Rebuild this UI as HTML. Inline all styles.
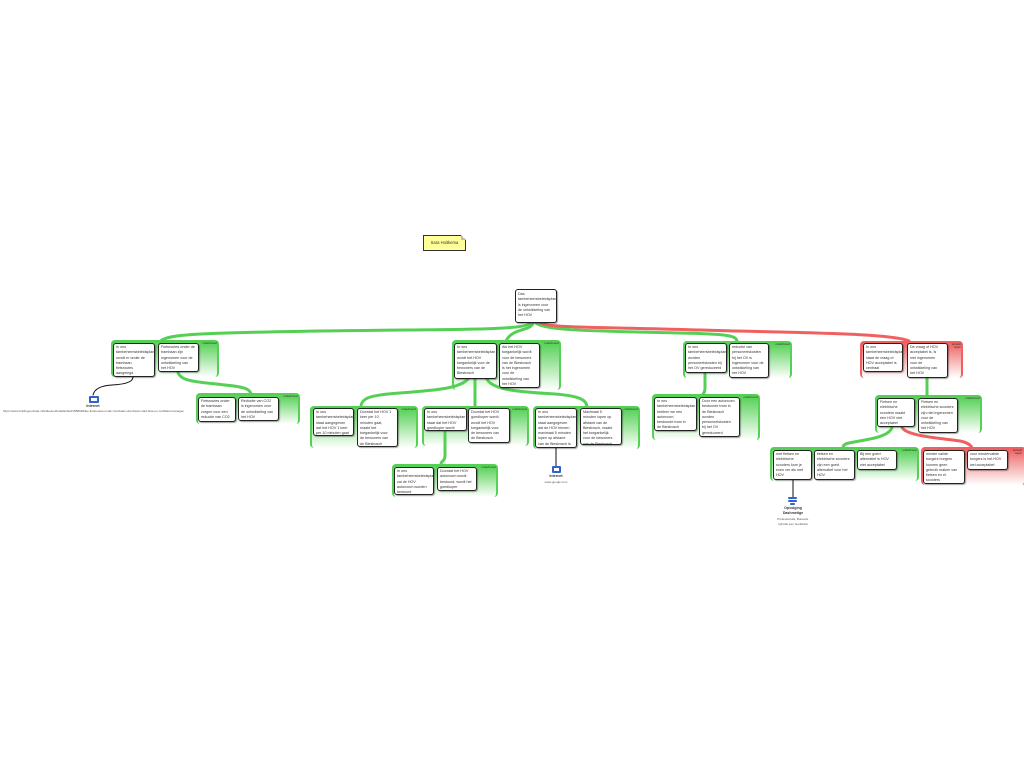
<!DOCTYPE html>
<html><head><meta charset="utf-8">
<style>
html,body{margin:0;padding:0;background:#fff;}
#c{position:relative;width:1024px;height:768px;overflow:hidden;background:#fff;font-family:"Liberation Sans",sans-serif;}
.g{position:absolute;box-sizing:border-box;border-radius:4px;z-index:0;}
.gg{background:linear-gradient(to bottom,#55d055 0%,#8fe08f 35%,#ffffff 100%);border-left:2px solid #55d055;border-right:2px solid #55d055;border-top:2px solid #55d055;}
.gr{background:linear-gradient(to bottom,#f06060 0%,#f49a9a 35%,#ffffff 100%);border-left:2px solid #f06060;border-right:2px solid #f06060;border-top:2px solid #f06060;}
.b{position:absolute;box-sizing:border-box;background:#fff;border:1.3px solid #222;border-radius:3px;box-shadow:1px 1px 1px rgba(0,0,0,.35);font-size:3.7px;line-height:5.3px;color:#333;padding:1px 2px;white-space:nowrap;overflow:hidden;z-index:2;}
.l{position:absolute;font-size:2.8px;line-height:3.2px;color:#333;z-index:2;text-align:right;}
svg{position:absolute;left:0;top:0;z-index:1;}
.ic{position:absolute;background:#2f62d0;border-radius:1px;z-index:2;}
.t{position:absolute;z-index:2;text-align:center;color:#333;white-space:nowrap;}
</style></head><body><div id="c">

<!-- yellow note -->
<div style="position:absolute;left:423px;top:235px;width:43px;height:16px;box-sizing:border-box;background:#ffff99;border:1px solid #333;font-size:4.2px;line-height:14px;text-align:center;color:#333;clip-path:polygon(0 0,38px 0,43px 5px,43px 16px,0 16px);">Sara Hoitkema</div>
<div style="position:absolute;left:461px;top:235px;width:5px;height:5px;background:linear-gradient(225deg,transparent 50%,#bbb 50%);"></div>

<!-- groups -->
<div class="g gg" style="left:111px;top:340px;width:108px;height:37px;"></div>
<div class="g gg" style="left:196px;top:393px;width:104px;height:31px;"></div>
<div class="g gg" style="left:452px;top:340px;width:109px;height:50px;"></div>
<div class="g gg" style="left:310px;top:406px;width:108px;height:42px;"></div>
<div class="g gg" style="left:422px;top:406px;width:107px;height:40px;"></div>
<div class="g gg" style="left:392px;top:464px;width:106px;height:33px;"></div>
<div class="g gg" style="left:533px;top:406px;width:107px;height:43px;"></div>
<div class="g gg" style="left:683px;top:341px;width:109px;height:37px;"></div>
<div class="g gg" style="left:652px;top:394px;width:108px;height:46px;"></div>
<div class="g gr" style="left:860px;top:341px;width:103px;height:37px;"></div>
<div class="g gg" style="left:875px;top:395px;width:107px;height:38px;"></div>
<div class="g gg" style="left:770px;top:447px;width:149px;height:34px;"></div>
<div class="g gr" style="left:921px;top:447px;width:105px;height:38px;"></div>

<!-- group labels -->
<div class="l" style="left:197px;top:342px;width:20px;">onderbouwt</div>
<div class="l" style="left:278px;top:395px;width:20px;">onderbouwt</div>
<div class="l" style="left:539px;top:342px;width:20px;">onderbouwt</div>
<div class="l" style="left:396px;top:408px;width:20px;">onderbouwt</div>
<div class="l" style="left:507px;top:408px;width:20px;">onderbouwt</div>
<div class="l" style="left:476px;top:466px;width:20px;">onderbouwt</div>
<div class="l" style="left:618px;top:408px;width:20px;">onderbouwt</div>
<div class="l" style="left:770px;top:343px;width:20px;">onderbouwt</div>
<div class="l" style="left:738px;top:396px;width:20px;">onderbouwt</div>
<div class="l" style="left:946px;top:343px;width:15px;">spreekt<br>tegen</div>
<div class="l" style="left:960px;top:397px;width:20px;">onderbouwt</div>
<div class="l" style="left:897px;top:449px;width:20px;">onderbouwt</div>
<div class="l" style="left:1008px;top:449px;width:14px;">spreekt<br>tegen</div>

<!-- connectors -->
<svg width="1024" height="768" viewBox="0 0 1024 768">
<g fill="none" stroke-linecap="round">
<path d="M530 323 C526 331 440 329 320 331 C200 333 164 334 160 342" stroke="#55d055" stroke-width="3"/>
<path d="M533 323 C531 331 512 328 506 341" stroke="#55d055" stroke-width="3"/>
<path d="M536 323 C545 331 600 331 680 333 C730 334 736 336 737 341" stroke="#55d055" stroke-width="3"/>
<path d="M541 323 C550 328 600 327 700 330 C800 333 890 333 909 341" stroke="#f06060" stroke-width="3"/>
<path d="M178 372 C180 382 200 382 225 385 C245 387 250 389 251 394" stroke="#55d055" stroke-width="3"/>
<path d="M468 379 C460 388 440 390 400 393 C370 395 362 398 361 406" stroke="#55d055" stroke-width="3"/>
<path d="M475 379 L475 406" stroke="#55d055" stroke-width="3"/>
<path d="M487 379 C492 390 520 392 555 394 C580 396 586 400 587 406" stroke="#55d055" stroke-width="3"/>
<path d="M445 431 L445 456 C445 461 441 461 441 464" stroke="#55d055" stroke-width="3"/>
<path d="M705 373 L705 388 C705 391 704 393 703 394" stroke="#55d055" stroke-width="3"/>
<path d="M927 378 L927 395" stroke="#55d055" stroke-width="3"/>
<path d="M892 427 C890 438 862 440 849 443 Q843 444 843 448" stroke="#55d055" stroke-width="3"/>
<path d="M902 427 C905 436 940 438 960 441 Q970 443 972 448" stroke="#f06060" stroke-width="3"/>
<path d="M133 377 Q133 384 112 385 Q95 386 93 395" stroke="#111" stroke-width="1"/>
<path d="M556 448 L556 466" stroke="#111" stroke-width="1"/>
<path d="M793 480 L793 497" stroke="#111" stroke-width="1"/>
</g>
</svg>

<!-- root -->
<div class="b" style="left:515px;top:289px;width:42px;height:34px;padding-top:2px;">Das<br>tarnbeheersbeleidsplan<br>is ingenomen voor<br>de ontwikkeling van<br>het HOV</div>

<!-- group 1 -->
<div class="b" style="left:113px;top:343px;width:42px;height:34px;">In ons<br>tarnbeheersbeleidsplan<br>wordt er onder de<br>trambaan<br>fietsroutes<br>aangelegd.</div>
<div class="b" style="left:158px;top:343px;width:41px;height:29px;">Fietsroutes onder de<br>trambaan zijn<br>ingenomen voor de<br>ontwikkeling van<br>het HOV</div>
<div class="b" style="left:198px;top:397px;width:38px;height:25px;">Fietsroutes onder<br>de trambaan<br>zorgen voor een<br>reductie van CO2</div>
<div class="b" style="left:238px;top:397px;width:41px;height:24px;">Reductie van CO2<br>is ingenomen voor<br>de ontwikkeling van<br>het HOV</div>

<!-- group 2 -->
<div class="b" style="left:454px;top:343px;width:43px;height:36px;">In ons<br>tarnbeheersbeleidsplan<br>wordt het HOV<br>toegankelijk voor de<br>bewoners van de<br>Biesbosch</div>
<div class="b" style="left:499px;top:343px;width:41px;height:45px;">Als het HOV<br>toegankelijk wordt<br>voor de bewoners<br>van de Biesbosch<br>is het ingenomen<br>voor de<br>ontwikkeling van<br>het HOV</div>

<div class="b" style="left:313px;top:408px;width:41px;height:28px;">In ons<br>tarnbeheersbeleidsplan<br>staat aangegeven<br>dat het HOV 1 keer<br>per 10 minuten gaat</div>
<div class="b" style="left:357px;top:408px;width:41px;height:39px;">Doordat het HOV 1<br>keer per 10<br>minuten gaat,<br>maakt het<br>toegankelijk voor<br>de bewoners van<br>de Biesbosch</div>

<div class="b" style="left:424px;top:408px;width:43px;height:23px;">In ons<br>tarnbeheersbeleidsplan<br>staat dat het HOV<br>goedkoper wordt</div>
<div class="b" style="left:468px;top:408px;width:42px;height:35px;">Doordat het HOV<br>goedkoper wordt,<br>wordt het HOV<br>toegankelijk voor<br>de bewoners van<br>de Biesbosch</div>

<div class="b" style="left:394px;top:467px;width:40px;height:28px;">In ons<br>tarnbeheersbeleidsplan<br>zal de HOV<br>autonoom worden<br>bestuurd</div>
<div class="b" style="left:437px;top:467px;width:40px;height:24px;">Doordat het HOV<br>autonoom wordt<br>bestuurd, wordt het<br>goedkoper</div>

<div class="b" style="left:535px;top:408px;width:42px;height:40px;">In ons<br>tarnbeheersbeleidsplan<br>staat aangegeven<br>dat de HOV binnen<br>maximaal 5 minuten<br>lopen op afstand<br>van de Biesbosch is</div>
<div class="b" style="left:580px;top:408px;width:42px;height:37px;">Maximaal 5<br>minuten lopen op<br>afstand van de<br>Biesbosch, maakt<br>het toegankelijk<br>voor de bewoners<br>van de Biesbosch</div>

<!-- group 3 -->
<div class="b" style="left:685px;top:343px;width:42px;height:30px;">In ons<br>tarnbeheersbeleidsplan<br>worden<br>personeelskosten bij<br>het OV gereduceerd</div>
<div class="b" style="left:729px;top:343px;width:40px;height:35px;">reductie van<br>personeelskosten<br>bij het OV is<br>ingenomen voor de<br>ontwikkeling van<br>het HOV</div>
<div class="b" style="left:654px;top:397px;width:43px;height:34px;">In ons<br>tarnbeheersbeleidsplan<br>hebben we een<br>autonoom<br>bestuurde tram in<br>de Biesbosch</div>
<div class="b" style="left:699px;top:397px;width:41px;height:40px;">Door een autonoom<br>bestuurde tram in<br>de Biesbosch<br>worden<br>personeelskosten<br>bij het OV<br>gereduceerd</div>

<!-- group 4 -->
<div class="b" style="left:863px;top:343px;width:40px;height:29px;">In ons<br>tarnbeheersbeleidsplan<br>staat de vraag of<br>HOV acceptabel is<br>centraal</div>
<div class="b" style="left:907px;top:343px;width:41px;height:35px;">De vraag of HOV<br>acceptabel is, is<br>niet ingenomen<br>voor de<br>ontwikkeling van<br>het HOV</div>
<div class="b" style="left:877px;top:398px;width:38px;height:29px;">Fietsen en<br>elektrische<br>scooters maakt<br>een HOV niet<br>acceptabel</div>
<div class="b" style="left:918px;top:398px;width:40px;height:35px;">Fietsen en<br>elektrische scooters<br>zijn niet ingenomen<br>voor de<br>ontwikkeling van<br>het HOV</div>

<div class="b" style="left:773px;top:450px;width:39px;height:30px;">met fietsen en<br>elektrische<br>scooters kom je<br>even ver als met<br>HOV</div>
<div class="b" style="left:814px;top:450px;width:41px;height:30px;">fietsen en<br>elektrische scooters<br>zijn een goed<br>alternatief voor het<br>HOV</div>
<div class="b" style="left:857px;top:450px;width:40px;height:20px;">Bij een goed<br>alternatief is HOV<br>niet acceptabel</div>
<div class="b" style="left:923px;top:450px;width:42px;height:34px;">minder valide<br>burgers burgers<br>kunnen geen<br>gebruik maken van<br>fietsen en el.<br>scooters</div>
<div class="b" style="left:967px;top:450px;width:41px;height:20px;">voor mindervalide<br>burgers is het HOV<br>wel acceptabel</div>

<!-- internet icon 1 -->
<div class="ic" style="left:89px;top:396px;width:10px;height:7px;"><div style="position:absolute;left:2px;top:1.5px;width:6px;height:3px;background:#fff;"></div></div>
<div class="t" style="left:73px;top:404px;width:40px;font-size:3.6px;font-weight:bold;line-height:4px;">Internet</div>
<div class="t" style="left:3px;top:409px;width:181px;font-size:3px;line-height:4px;color:#555;overflow:hidden;">https://www.buitlingcentrale.nl/artikelen/detail/artikel/185809/bike-fietsroutes-onder-trambaan-duurzaam-stad-fiets-en-mobiliteit-management</div>

<!-- internet icon 2 -->
<div class="ic" style="left:552px;top:466px;width:9px;height:7px;"><div style="position:absolute;left:2px;top:1.5px;width:5px;height:3px;background:#fff;"></div></div>
<div class="t" style="left:536px;top:474px;width:40px;font-size:3.6px;font-weight:bold;line-height:4px;">Internet</div>
<div class="t" style="left:536px;top:480px;width:40px;font-size:3px;line-height:4px;color:#555;">www.google.com</div>

<!-- opvolging icon -->
<div class="ic" style="left:788px;top:497px;width:9px;height:2px;"></div>
<div class="ic" style="left:788px;top:500px;width:9px;height:2px;"></div>
<div class="ic" style="left:790px;top:503px;width:5px;height:2px;"></div>
<div class="t" style="left:768px;top:506px;width:50px;font-size:3.6px;font-weight:bold;line-height:4.6px;">Opvolging<br>Dashmetige</div>
<div class="t" style="left:763px;top:517px;width:60px;font-size:3px;line-height:4.6px;color:#555;">Professionals, Bureaus,<br>hybride een hoofdstuk</div>

</div></body></html>
